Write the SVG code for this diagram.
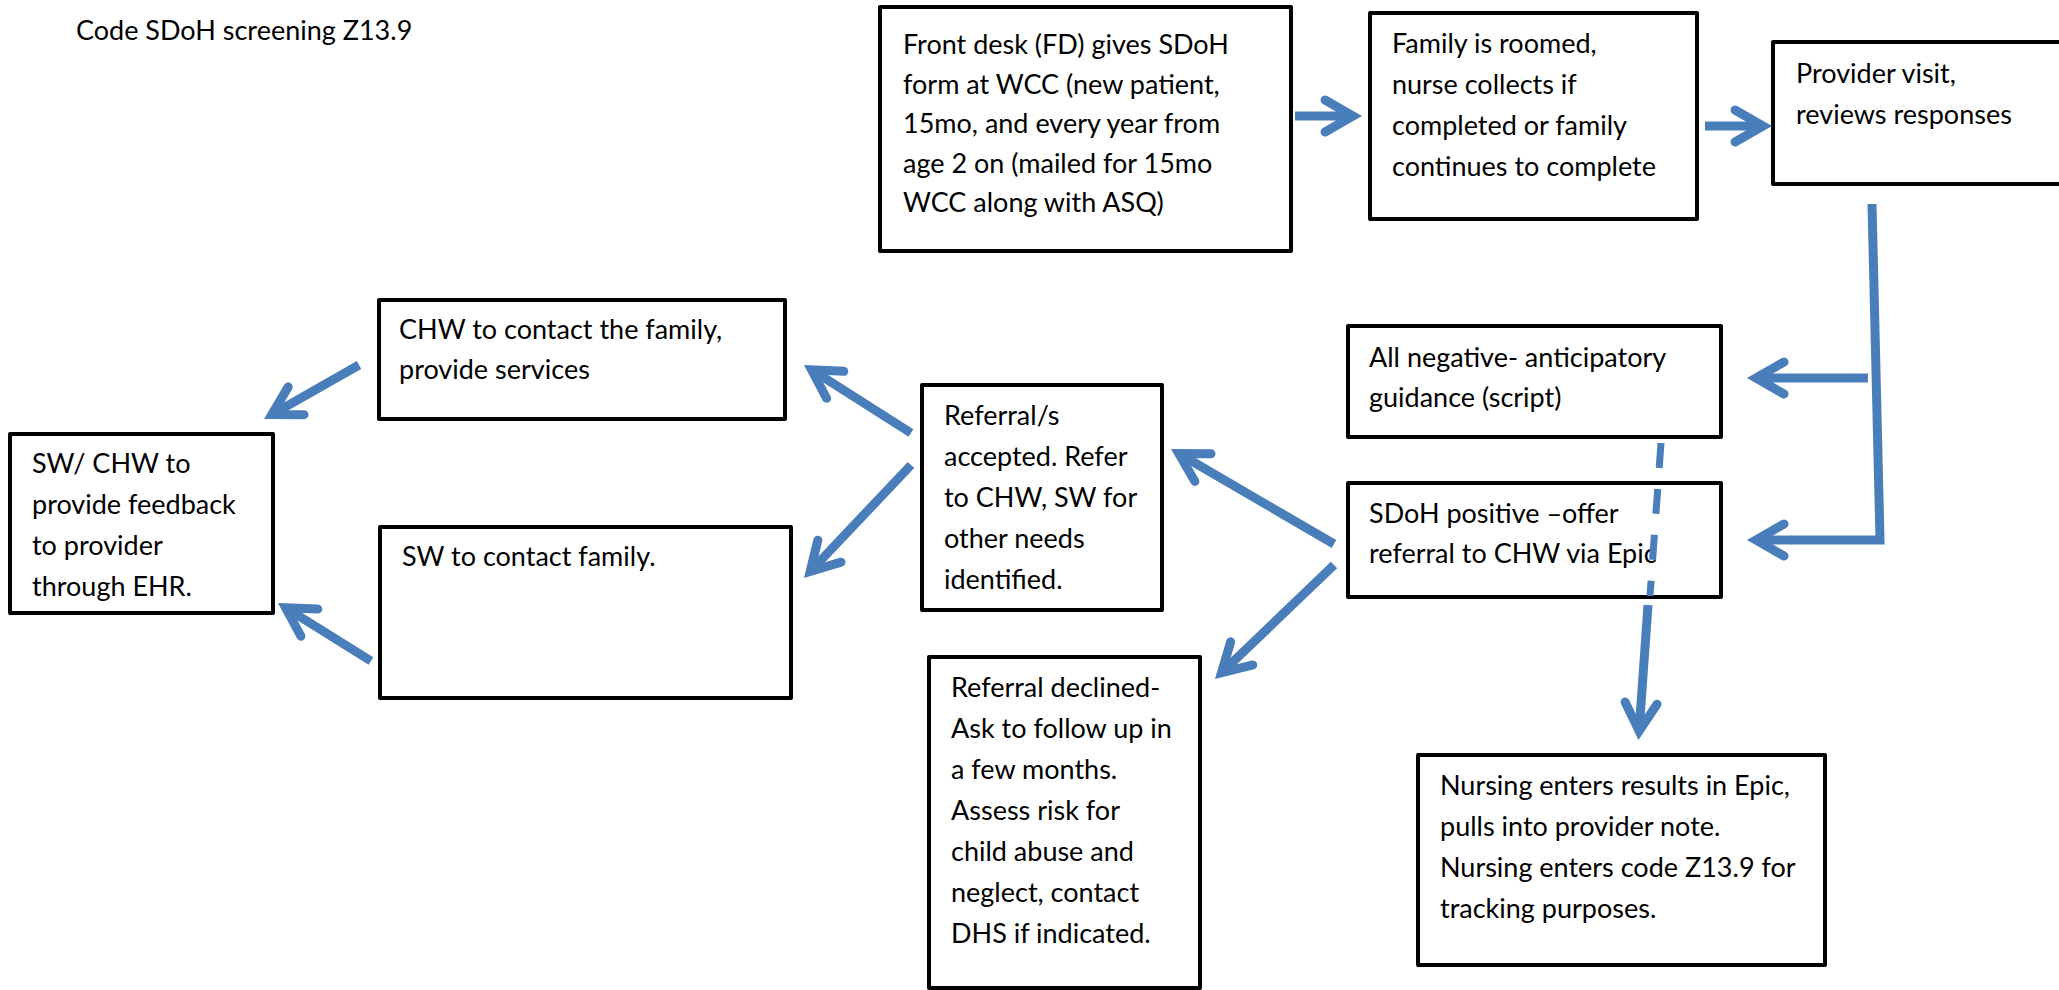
<svg xmlns="http://www.w3.org/2000/svg" width="2059" height="990" viewBox="0 0 2059 990">
<defs>
<style>
.box{fill:#ffffff;stroke:#000000;stroke-width:4;stroke-linejoin:round}
.t{font-family:Lato,"Liberation Sans",sans-serif;font-size:27px;fill:#000000}
.c{fill:none;stroke:#4A7EBB;stroke-width:9;stroke-linecap:butt;stroke-linejoin:miter}
.d{fill:none;stroke:#4A7EBB;stroke-width:7;stroke-dasharray:25 21}
</style>
<marker id="ah" markerUnits="userSpaceOnUse" viewBox="-40 -30 60 60" refX="0" refY="0" markerWidth="60" markerHeight="60" orient="auto" overflow="visible">
<path d="M-28,-16 L0,0 L-28,16" fill="none" stroke="#4A7EBB" stroke-width="9" stroke-linecap="round" stroke-linejoin="miter"/>
</marker>
</defs>
<rect width="2059" height="990" fill="#ffffff"/>
<g id="title"><text class="t" x="76" y="40">Code SDoH screening Z13.9</text></g>
<g id="n-frontdesk"><rect class="box" x="880" y="7" width="411" height="244"/>
<text class="t"><tspan x="903" y="54">Front desk (FD) gives SDoH</tspan><tspan x="903" y="93.5">form at WCC (new patient,</tspan><tspan x="903" y="133">15mo, and every year from</tspan><tspan x="903" y="172.5">age 2 on (mailed for 15mo</tspan><tspan x="903" y="212">WCC along with ASQ)</tspan></text></g>
<g id="n-family"><rect class="box" x="1370" y="13" width="327" height="206"/>
<text class="t"><tspan x="1392" y="53">Family is roomed,</tspan><tspan x="1392" y="94">nurse collects if</tspan><tspan x="1392" y="135">completed or family</tspan><tspan x="1392" y="176">continues to complete</tspan></text></g>
<g id="n-provider"><rect class="box" x="1773" y="42" width="300" height="142"/>
<text class="t"><tspan x="1796" y="83">Provider visit,</tspan><tspan x="1796" y="124">reviews responses</tspan></text></g>
<g id="n-negative"><rect class="box" x="1348" y="326" width="373" height="111"/>
<text class="t"><tspan x="1369" y="367">All negative- anticipatory</tspan><tspan x="1369" y="407">guidance (script)</tspan></text></g>
<g id="n-positive"><rect class="box" x="1348" y="483" width="373" height="114"/>
<text class="t"><tspan x="1369" y="523">SDoH positive –offer</tspan><tspan x="1369" y="563">referral to CHW via Epic</tspan></text></g>
<g id="n-accepted"><rect class="box" x="922" y="385" width="240" height="225"/>
<text class="t"><tspan x="944" y="425">Referral/s</tspan><tspan x="944" y="466">accepted. Refer</tspan><tspan x="944" y="507">to CHW, SW for</tspan><tspan x="944" y="548">other needs</tspan><tspan x="944" y="589">identified.</tspan></text></g>
<g id="n-chw"><rect class="box" x="379" y="300" width="406" height="119"/>
<text class="t"><tspan x="399" y="339">CHW to contact the family,</tspan><tspan x="399" y="379">provide services</tspan></text></g>
<g id="n-sw"><rect class="box" x="380" y="527" width="411" height="171"/>
<text class="t"><tspan x="402" y="566">SW to contact family.</tspan></text></g>
<g id="n-feedback"><rect class="box" x="10" y="434" width="263" height="179"/>
<text class="t"><tspan x="32" y="473">SW/ CHW to</tspan><tspan x="32" y="514">provide feedback</tspan><tspan x="32" y="555">to provider</tspan><tspan x="32" y="596">through EHR.</tspan></text></g>
<g id="n-declined"><rect class="box" x="929" y="657" width="271" height="331"/>
<text class="t"><tspan x="951" y="697">Referral declined-</tspan><tspan x="951" y="738">Ask to follow up in</tspan><tspan x="951" y="779">a few months.</tspan><tspan x="951" y="820">Assess risk for</tspan><tspan x="951" y="861">child abuse and</tspan><tspan x="951" y="902">neglect, contact</tspan><tspan x="951" y="943">DHS if indicated.</tspan></text></g>
<g id="n-nursing"><rect class="box" x="1418" y="755" width="407" height="210"/>
<text class="t"><tspan x="1440" y="795">Nursing enters results in Epic,</tspan><tspan x="1440" y="836">pulls into provider note.</tspan><tspan x="1440" y="877">Nursing enters code Z13.9 for</tspan><tspan x="1440" y="918">tracking purposes.</tspan></text></g>
<g id="connectors">
<path class="c" d="M1295,116 L1353,116" marker-end="url(#ah)"/>
<path class="c" d="M1705,126 L1763,126" marker-end="url(#ah)"/>
<path class="c" d="M1872,204 L1880,540 L1756,540" marker-end="url(#ah)"/>
<path class="c" d="M1868,378 L1756,378" marker-end="url(#ah)"/>
<path class="c" d="M911,433 L811.6,369.8" marker-end="url(#ah)"/>
<path class="c" d="M911,465 L810.2,571.5" marker-end="url(#ah)"/>
<path class="c" d="M1334,544 L1178.8,453.5" marker-end="url(#ah)"/>
<path class="c" d="M1334,565 L1221.5,672.8" marker-end="url(#ah)"/>
<path class="c" d="M359,365 L271.8,414.6" marker-end="url(#ah)"/>
<path class="c" d="M371,661 L285.6,607.8" marker-end="url(#ah)"/>
<path class="d" d="M1661,443 L1650,596"/>
<path class="c" d="M1648,605 L1639.1,731" marker-end="url(#ah)"/>
</g>
</svg>
